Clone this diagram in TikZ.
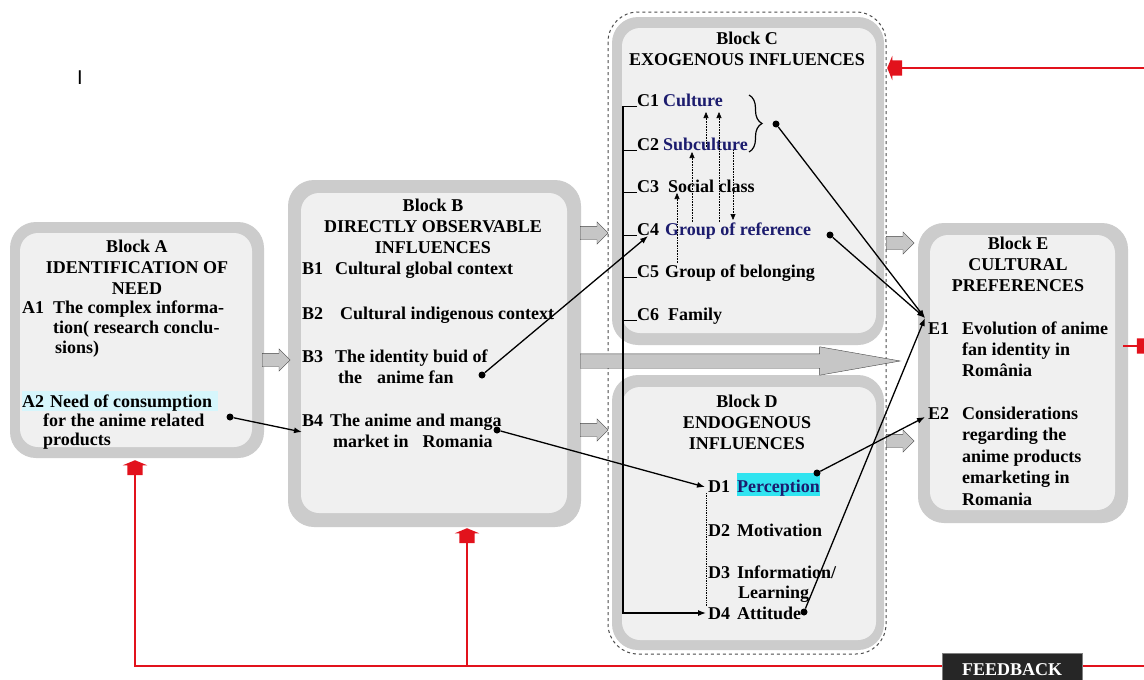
\documentclass[tikz,border=0pt]{standalone}
\usepackage{fontspec}
\setmainfont{Liberation Serif}
\setsansfont{Liberation Sans}
\usepackage{xcolor}
\usepackage{tikz}
\usetikzlibrary{shapes.arrows,arrows.meta,decorations.pathreplacing}

\definecolor{navyblue}{RGB}{28,28,110}
\definecolor{paleblue}{RGB}{214,246,252}
\definecolor{hicyan}{RGB}{48,228,240}
\definecolor{fbred}{RGB}{226,18,28}
\newcommand{\lbl}[2][29pt]{\makebox[#1][l]{#2}}

\begin{document}
\begin{tikzpicture}[x=1pt,y=-1pt,
  font=\bfseries\fontsize{18}{21}\selectfont,
  every node/.style={inner sep=0pt},
  item/.style={anchor=base west,align=left},
  head/.style={anchor=base,align=center}]

  \tikzstyle{outerbox} = [fill=gray!40,rounded corners=26pt]
  \tikzstyle{innerbox} = [fill=gray!12,rounded corners=18pt]
  \tikzstyle{garrow} = [single arrow,draw=gray!55!black,fill=gray!45,inner xsep=0pt,inner ysep=6.5pt,minimum height=28pt,single arrow head extend=4.5pt,anchor=tail]
  \tikzstyle{fbline} = [draw=fbred,line width=2.6pt]
  \tikzstyle{fbhead} = [single arrow,fill=fbred,inner xsep=0pt,inner ysep=7.5pt,minimum height=15pt,single arrow head extend=4.5pt,single arrow tip angle=135,anchor=tip]
  \tikzstyle{dot} = [circle,fill=black,minimum size=7pt]
  \tikzstyle{link} = [line width=1.3pt,-{Latex[length=8pt,width=6pt]}]
  \tikzstyle{dotarr} = [densely dotted,line width=0.6pt,-{Triangle[length=6pt,width=5pt]}]

  \fill[white] (0,0) rectangle (1144,680);
  \useasboundingbox (0,0) rectangle (1144,680);

  \node[font=\sffamily\mdseries\fontsize{20}{20}\selectfont] (cursor) at (80,78) {I};

  \fill[outerbox] (10,222) rectangle (264,458);
  \fill[innerbox] (20,233) rectangle (252,447);
  \fill[outerbox] (288,180) rectangle (581,527);
  \fill[innerbox] (301,193) rectangle (567,513);
  \fill[outerbox] (612,17) rectangle (884,345);
  \fill[innerbox] (622,28) rectangle (876,333);
  \fill[outerbox] (612,375) rectangle (884,650);
  \fill[innerbox] (622,387) rectangle (876,640);
  \fill[outerbox] (918,223) rectangle (1128,523);
  \fill[innerbox] (930,235) rectangle (1115,510);
  \draw[gray!60!black,dashed,line width=1pt,rounded corners=30pt] (608,12) rectangle (886,654);

  \node[garrow] (ab) at (262,360) {};
  \node[garrow] (bc) at (580,233) {};
  \node[garrow] (bd) at (580,430) {};
  \node[garrow] (ce) at (886,243) {};
  \node[garrow] (de) at (886,441) {};
  \node[garrow,inner ysep=7pt,minimum height=320pt,single arrow head extend=7pt,single arrow tip angle=20] (ccde) at (580,361) {};

  \fill[paleblue] (22,391) rectangle (218,411);
  \fill[hicyan] (737,473) rectangle (820,496);

  \node[head] (blockA) at (137,294) {Block A\\IDENTIFICATION OF\\NEED};
  \node[item,font=\bfseries\fontsize{18}{20}\selectfont] (a1) at (22,353) {\lbl[31pt]{A1}The complex informa-\\\hspace*{31pt}tion( research conclu-\\\hspace*{33pt}sions)};
  \node[item,font=\bfseries\fontsize{18}{19}\selectfont] (a2) at (22,445) {\lbl[28pt]{A2}Need of consumption\\\hspace*{21pt}for the anime related\\\hspace*{21pt}products};

  \node[head] (blockB) at (433,253) {Block B\\DIRECTLY OBSERVABLE\\INFLUENCES};
  \node[item] (b1) at (302,274) {\lbl[33pt]{B1}Cultural global context};
  \node[item] (b2) at (302,319) {\lbl[38pt]{B2}Cultural indigenous context};
  \node[item] (b3) at (302,383) {\lbl[33pt]{B3}The identity buid of\\\hspace*{36pt}the\hspace{15pt}anime fan};
  \node[item] (b4) at (302,447) {\lbl[28pt]{B4}The anime and manga\\\hspace*{31pt}market in\hspace{14pt}Romania};

  \node[head] (blockC) at (747,65) {Block C\\EXOGENOUS INFLUENCES};
  \node[item] (c1) at (637,106) {\lbl[26pt]{C1}\textcolor{navyblue}{Culture}};
  \node[item] (c2) at (637,150) {\lbl[26pt]{C2}\textcolor{navyblue}{Subculture}};
  \node[item] (c3) at (637,192) {\lbl[31pt]{C3}Social class};
  \node[item] (c4) at (637,235) {\lbl[28pt]{C4}\textcolor{navyblue}{Group of reference}};
  \node[item] (c5) at (637,277) {\lbl[28pt]{C5}Group of belonging};
  \node[item] (c6) at (637,320) {\lbl[31pt]{C6}Family};

  \node[head] (blockD) at (747,449) {Block D\\ENDOGENOUS\\INFLUENCES};
  \node[item] (d1) at (708,492) {\lbl{D1}\textcolor{navyblue}{Perception}};
  \node[item] (d2) at (708,536) {\lbl{D2}Motivation};
  \node[item,font=\bfseries\fontsize{18}{20}\selectfont] (d3) at (708,598) {\lbl{D3}Information/\\\hspace*{30pt}Learning};
  \node[item] (d4) at (708,619) {\lbl{D4}Attitude};

  \node[head] (blockE) at (1018,291) {Block E\\CULTURAL\\PREFERENCES};
  \node[item] (e1) at (928,376) {\lbl[34pt]{E1}Evolution of anime\\\hspace*{34pt}fan identity in\\\hspace*{34pt}România};
  \node[item,font=\bfseries\fontsize{18}{21.5}\selectfont] (e2) at (928,505) {\lbl[34pt]{E2}Considerations\\\hspace*{34pt}regarding the\\\hspace*{34pt}anime products\\\hspace*{34pt}emarketing in\\\hspace*{34pt}Romania};

  \foreach \n in {c1,c2,c3,c4,c5,c6}
    \draw[line width=1pt] (\n.base west) -- ++(-14,0);
  \coordinate (spine) at (623,106);
  \coordinate (d4in) at (706,613);
  \draw[link] (spine) |- (d4in);
  \draw[densely dotted,line width=0.7pt] (706,493) coordinate (dtop) -- (706,606) coordinate (dbot);

  \foreach \x/\ya/\yb [count=\i] in {706/147/112,719/222/112,692/222/152,677/263/193,733/150/220} {
    \coordinate (up\i a) at (\x,\ya);
    \coordinate (up\i b) at (\x,\yb);
    \draw[dotarr] (up\i a) -- (up\i b);
  }

  \coordinate (brtop) at (749,95);
  \coordinate (brbot) at (749,152);
  \draw[line width=1.2pt,decorate,decoration={brace,amplitude=13pt}] (brtop) -- (brbot);

  \node[dot] (a2d) at (230,417) {};
  \node[dot] (b3d) at (482,375) {};
  \node[dot] (b4d) at (497,430) {};
  \node[dot] (cbd) at (776,124) {};
  \node[dot] (c4d) at (830,235) {};
  \node[dot] (d1d) at (817,473) {};
  \node[dot] (d4d) at (804,612) {};
  \coordinate (b4in) at (302,432);
  \coordinate (c4in) at (648,236);
  \coordinate (d1in) at (705,487);
  \coordinate (e1in) at (925,318);
  \coordinate (e2in) at (925,417);

  \path[link]
    (a2d) edge (b4in)
    (b3d) edge (c4in)
    (b4d) edge (d1in)
    (cbd) edge (e1in)
    (c4d) edge (e1in)
    (d4d) edge (e1in)
    (d1d) edge (e2in);

  \node[fbhead,rotate=90] (headA) at (135,460) {};
  \node[fbhead,rotate=90] (headB) at (467,528) {};
  \node[fbhead,shape border rotate=180] (headC) at (887,68) {};
  \node[fbhead] (headE) at (1152,346) {};
  \coordinate (fbA) at (135,666);
  \coordinate (fbB) at (467,666);
  \coordinate (fbR) at (1144,666);
  \coordinate (fbtop) at (1144,68);
  \draw[fbline] (fbR) -- (fbA) -- (headA.tail);
  \draw[fbline] (fbB) -- (headB.tail);
  \draw[fbline] (fbtop) -- (headC.tail);
  \draw[fbline] (headE.tail) -- ++(-14,0);

  \node[fill=black!85,draw=gray,minimum width=140pt,minimum height=32pt,anchor=north,text=white] (feedback) at (1012,653) {FEEDBACK};

\end{tikzpicture}
\end{document}
